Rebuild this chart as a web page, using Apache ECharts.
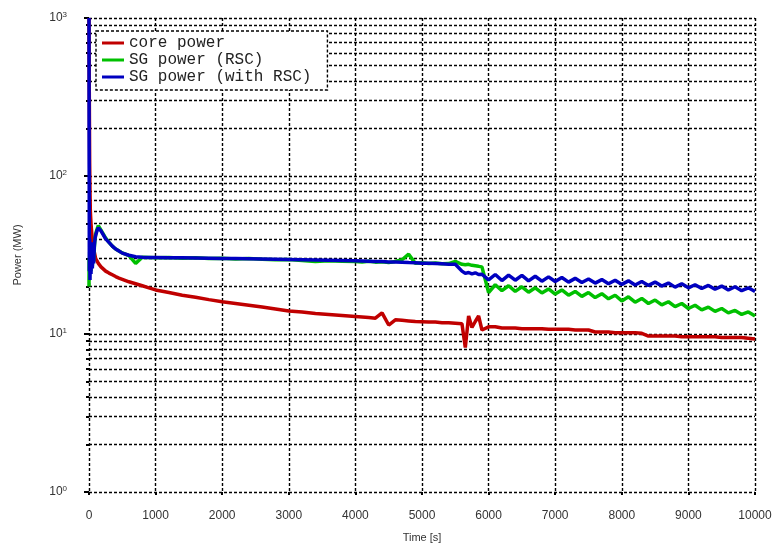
<!DOCTYPE html>
<html>
<head>
<meta charset="utf-8">
<script src="https://cdn.jsdelivr.net/npm/echarts@6/dist/echarts.min.js"></script>
<style>html,body{margin:0;padding:0;background:#fff}#c{width:772px;height:545px}</style>
</head>
<body>
<div id="c"></div>
<script>
// time [s]
var times = [
  0, 2, 5, 10, 15, 20, 30, 40, 50, 60, 70, 80, 90, 100, 120, 140, 160, 180, 200, 250, 300, 350, 400, 450, 500, 600, 700, 800, 900,
  1000, 1200, 1400, 1600, 1800, 2000, 2200, 2400, 2600, 2800, 3000, 3200, 3400, 3600, 3800, 4000,
  4100, 4200, 4300, 4400, 4500, 4600, 4700, 4800, 4900, 5000, 5100, 5200, 5300, 5400, 5500, 5600, 5650, 5700, 5750, 5800, 5850, 5900,
  6000, 6100, 6200, 6300, 6400, 6500, 6600, 6700, 6800, 6900, 7000, 7100, 7200, 7300, 7400, 7500, 7600, 7700, 7800, 7900,
  8000, 8100, 8200, 8300, 8400, 8500, 8600, 8700, 8800, 8900, 9000, 9100, 9200, 9300, 9400, 9500, 9600, 9700, 9800, 9900, 10000
];
// core power [MW]
var corePower = [
  1000, 600, 300, 120, 80, 60, 50, 44, 40, 37, 35, 33, 31.5, 30, 29, 28, 27.4, 26.6, 26, 25, 24.3, 23.7, 23.1, 22.6, 22.2, 21.4, 20.8, 20.2, 19.6,
  19.0, 18.3, 17.6, 17.1, 16.5, 16.0, 15.6, 15.2, 14.8, 14.4, 14.0, 13.8, 13.5, 13.3, 13.1, 12.9,
  12.8, 12.7, 12.6, 13.6, 11.4, 12.3, 12.2, 12.1, 12.0, 11.95, 11.9, 11.9, 11.8, 11.8, 11.7, 11.6, 8.2, 13.0, 11.0, 12.0, 13.0, 10.6,
  11.1, 11.1, 10.9, 10.9, 10.9, 10.8, 10.8, 10.8, 10.8, 10.7, 10.7, 10.7, 10.7, 10.6, 10.6, 10.6, 10.3, 10.3, 10.3, 10.2,
  10.2, 10.2, 10.2, 10.1, 9.7, 9.7, 9.7, 9.7, 9.7, 9.6, 9.6, 9.6, 9.6, 9.6, 9.6, 9.5, 9.5, 9.5, 9.5, 9.4, 9.3
];
// SG power (RSC) [MW]
var sgPowerRSC = [
  20, 30, 22, 33, 26, 30, 25, 34, 27, 31, 29, 35, 40, 43, 46, 48.5, 47, 45.5, 44, 40.5, 38, 36, 34.5, 33.5, 32.6, 31.3, 28, 30.6, 30.5,
  30.4, 30.5, 30.2, 30.4, 30.1, 30.2, 29.8, 30.0, 29.7, 29.5, 29.6, 29.2, 28.8, 29.1, 28.9, 28.8,
  28.6, 28.9, 28.5, 28.7, 28.3, 28.8, 29.5, 32.0, 28.0, 28.2, 27.9, 28.1, 27.8, 27.9, 28.8, 27.6, 27.4, 27.6, 27.2, 27.0, 26.8, 26.6,
  18.3, 20.5, 18.8, 20.2, 18.6, 19.9, 18.4, 19.6, 18.2, 19.3, 17.9, 19.0, 17.6, 18.6, 17.3, 18.3, 17.0, 18.0, 16.7, 17.6,
  16.2, 17.2, 15.9, 16.8, 15.6, 16.4, 15.3, 16.0, 14.9, 15.6, 14.5, 15.2, 14.2, 14.8, 13.9, 14.5, 13.6, 14.1, 13.3, 13.8, 13.0
];
// SG power (with RSC) [MW]
var sgPowerWithRSC = [
  1000, 150, 25, 40, 22, 34, 24, 38, 26, 33, 28, 36, 40, 42, 45, 47, 46.5, 45, 44, 40, 38, 36, 34.5, 33.5, 32.5, 31.5, 30.8, 30.6, 30.5,
  30.5, 30.4, 30.4, 30.3, 30.2, 30.1, 30.0, 29.9, 29.8, 29.7, 29.6, 29.5, 29.4, 29.3, 29.2, 29.1,
  29.0, 28.9, 28.8, 28.8, 28.6, 28.6, 28.5, 28.3, 28.2, 28.0, 28.0, 27.9, 27.8, 27.6, 27.6, 25.0, 24.2, 24.5, 24.0, 24.4, 23.8, 23.9,
  22.0, 23.8, 21.8, 23.6, 21.9, 23.5, 21.7, 23.2, 21.6, 23.0, 21.5, 22.8, 21.3, 22.5, 21.2, 22.3, 21.0, 22.1, 20.8, 21.9,
  20.6, 21.7, 20.4, 21.5, 20.3, 21.3, 20.1, 21.0, 19.8, 20.8, 19.6, 20.5, 19.4, 20.3, 19.2, 20.1, 19.0, 19.9, 18.8, 19.6, 18.6
];
var seriesNames = ['core power', 'SG power (RSC)', 'SG power (with RSC)'];
var seriesColors = ['#c00000', '#00c000', '#0000c0'];

function pairs(vals) { return times.map(function (t, i) { return [t, vals[i]]; }); }

var gridLine = { color: '#000', type: [3, 2], width: 1.4 };
var font = '"Liberation Sans", Arial, sans-serif';

var chart = echarts.init(document.getElementById('c'), null, { renderer: 'canvas' });
chart.setOption({
  animation: false,
  backgroundColor: '#fff',
  grid: { left: 89, right: 17, top: 18, bottom: 53, containLabel: false, outerBoundsMode: 'none' },
  legend: {
    orient: 'vertical', left: 96, top: 31,
    data: seriesNames,
    icon: 'rect', itemWidth: 22, itemHeight: 3, itemGap: 1,
    padding: [4, 16, 5, 6],
    backgroundColor: '#fff', borderColor: '#000', borderWidth: 1.4, borderType: [3, 2],
    textStyle: { fontFamily: '"Liberation Mono", "Courier New", monospace', fontSize: 16, lineHeight: 16, color: '#222' }
  },
  xAxis: {
    type: 'value', min: 0, max: 10000, interval: 1000,
    name: 'Time [s]', nameLocation: 'middle', nameGap: 40,
    nameTextStyle: { fontFamily: font, fontSize: 11, color: '#333' },
    axisLine: { show: false },
    axisTick: { show: true, inside: false, length: 3, lineStyle: { color: '#000', width: 2 } },
    axisLabel: { margin: 18, fontFamily: font, fontSize: 12, color: '#333', formatter: function (v) { return String(v); } },
    splitLine: { show: true, lineStyle: gridLine }
  },
  yAxis: {
    type: 'log', logBase: 10, min: 1, max: 1000,
    name: 'Power (MW)', nameLocation: 'middle', nameGap: 66,
    nameTextStyle: { fontFamily: font, fontSize: 11, color: '#333' },
    axisLine: { show: false },
    axisTick: { show: true, length: 5, lineStyle: { color: '#000', width: 2 } },
    minorTick: { show: true, splitNumber: 9, length: 3, lineStyle: { color: '#000', width: 2 } },
    minorSplitLine: { show: true, lineStyle: gridLine },
    splitLine: { show: true, lineStyle: gridLine },
    axisLabel: {
      margin: 22, fontFamily: font,
      formatter: function (v) { return '{b|10}{s|' + Math.round(Math.log10(v)) + '}'; },
      rich: {
        b: { fontSize: 12, lineHeight: 14, color: '#333', fontFamily: font },
        s: { fontSize: 8, lineHeight: 8, verticalAlign: 'top', color: '#333', fontFamily: font }
      }
    }
  },
  series: [
    { name: seriesNames[0], type: 'line', data: pairs(corePower), showSymbol: false, color: seriesColors[0], lineStyle: { width: 3.5 }, z: 2 },
    { name: seriesNames[1], type: 'line', data: pairs(sgPowerRSC), showSymbol: false, color: seriesColors[1], lineStyle: { width: 3.5 }, z: 3 },
    { name: seriesNames[2], type: 'line', data: pairs(sgPowerWithRSC), showSymbol: false, color: seriesColors[2], lineStyle: { width: 3.5 }, z: 4 }
  ]
});
</script>
</body>
</html>
